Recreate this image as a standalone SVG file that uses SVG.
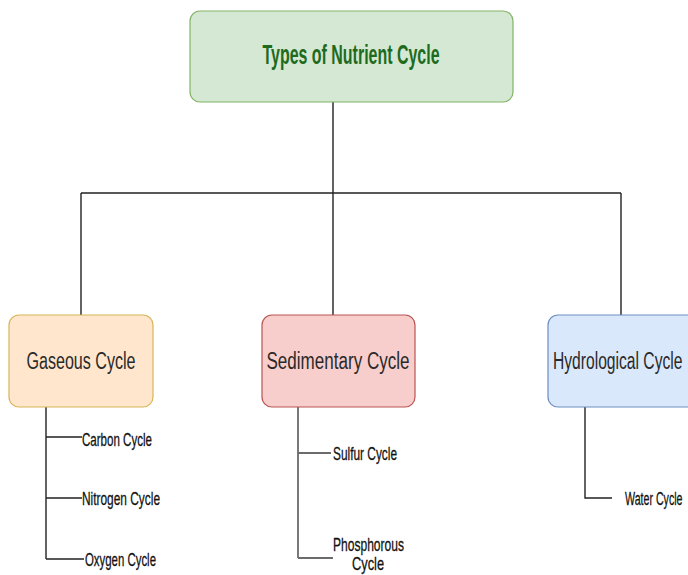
<svg xmlns="http://www.w3.org/2000/svg" width="688" height="575" viewBox="0 0 688 575">
  <style>
    .box { stroke-width: 1.2; }
    .root { fill: #d5e8d4; stroke: #82b366; }
    .gas { fill: #ffe6cc; stroke: #d6b656; }
    .sed { fill: #f8cecc; stroke: #b85450; }
    .hyd { fill: #dae8fc; stroke: #6c8ebf; }
    .title { font-family: "Liberation Sans", Arial, sans-serif; font-weight: bold; font-size: 28px; fill: #1e6b1e; }
    .cat { font-family: "Liberation Sans", Arial, sans-serif; font-size: 23px; fill: #2a2a2a; }
    .leaf { font-family: "Liberation Sans", Arial, sans-serif; font-size: 19px; fill: #111; stroke: #111; stroke-width: 0.3; }
    .edge { fill: none; stroke: #222; stroke-width: 1.4; }
    .edge.grey { stroke: #6b6b6b; stroke-width: 1.8; }
  </style>

  <rect width="688" height="575" fill="#ffffff"/>

  <g id="connectors">
    <path class="edge" d="M333 102 V193 M81 193 H621 M81 193 V315 M333 193 V315 M621 193 V315"/>
    <path class="edge" d="M46 407 V559 M46 437 H82 M46 498 H82 M46 559 H84"/>
    <path class="edge grey" d="M298 407 V558 M298 453 H331 M298 558 H333"/>
    <path class="edge" d="M585 407 V498 H612"/>
  </g>

  <g id="root">
    <rect class="box root" x="190" y="11" width="323" height="91" rx="10"/>
    <text class="title" x="351" y="64" text-anchor="middle" textLength="177" lengthAdjust="spacingAndGlyphs">Types of Nutrient Cycle</text>
  </g>

  <g id="gaseous">
    <rect class="box gas" x="9" y="315" width="144" height="92" rx="10"/>
    <text class="cat" x="81" y="369" text-anchor="middle" textLength="109" lengthAdjust="spacingAndGlyphs">Gaseous Cycle</text>
  </g>

  <g id="sedimentary">
    <rect class="box sed" x="262" y="315" width="153" height="92" rx="10"/>
    <text class="cat" x="338" y="369" text-anchor="middle" textLength="143" lengthAdjust="spacingAndGlyphs">Sedimentary Cycle</text>
  </g>

  <g id="hydrological">
    <rect class="box hyd" x="548" y="315" width="150" height="92" rx="10"/>
    <text class="cat" transform="translate(553 369) scale(0.68 1)">Hydrological Cycle</text>
  </g>

  <g id="carbon">
    <text class="leaf" x="82" y="446" textLength="70" lengthAdjust="spacingAndGlyphs">Carbon Cycle</text>
  </g>
  <g id="nitrogen">
    <text class="leaf" x="82" y="505" textLength="78" lengthAdjust="spacingAndGlyphs">Nitrogen Cycle</text>
  </g>
  <g id="oxygen">
    <text class="leaf" x="85" y="566" textLength="71" lengthAdjust="spacingAndGlyphs">Oxygen Cycle</text>
  </g>
  <g id="sulfur">
    <text class="leaf" x="333" y="460" textLength="64" lengthAdjust="spacingAndGlyphs">Sulfur Cycle</text>
  </g>
  <g id="phosphorous">
    <text class="leaf" x="333" y="551" textLength="71" lengthAdjust="spacingAndGlyphs">Phosphorous</text>
    <text class="leaf" x="368" y="570" text-anchor="middle" textLength="32" lengthAdjust="spacingAndGlyphs">Cycle</text>
  </g>
  <g id="water">
    <text class="leaf" transform="translate(625 505) scale(0.56 1)">Water Cycle</text>
  </g>
</svg>
